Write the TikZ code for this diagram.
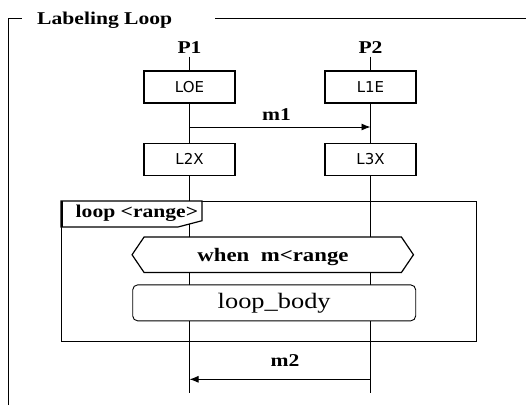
\documentclass[tikz,border=0pt]{standalone}
\usepackage{fontspec}
\setmainfont{Liberation Serif}
\newfontfamily\boxfont{DejaVu Sans}
\usetikzlibrary{arrows.meta,calc}
% serif labels are set a little wider than the font's natural width
\newcommand\wide[1]{\scalebox{1.2}[1]{#1}}
\begin{document}
\begin{tikzpicture}[x=1pt,y=-1pt,
  lbl/.style={font=\bfseries\fontsize{18}{21}\selectfont, inner sep=0pt},
  hexlbl/.style={font=\bfseries\fontsize{19}{22}\selectfont, inner sep=0pt},
  state/.style={draw, line width=1.3pt, fill=white, minimum width=91pt,
    minimum height=32pt, inner sep=0pt, font=\boxfont\fontsize{15}{18}\selectfont},
  lifeline/.style={line width=0.9pt},
  msg/.style={line width=0.9pt, -{Latex[length=9pt,width=7pt]}},
  frameline/.style={line width=1.5pt},
  loopline/.style={line width=1.2pt}]
\useasboundingbox (0,0) rectangle (526,405);

% ---- outer frame with its title
\node[lbl, anchor=base west] (title) at (37,24) {\wide{Labeling Loop}};
\coordinate (fBL) at (8.5,405);
\coordinate (fTL) at (8.5,18.5);
\coordinate (fT1) at (22,18.5);
\coordinate (fT2) at (215,18.5);
\coordinate (fTR) at (526,18.5);
\draw[frameline] (fBL) -- (fTL) -- (fT1);
\draw[frameline] (fT2) -- (fTR);

% ---- lifeline heads
\node[lbl, anchor=base] (P1) at (189.5,53.3) {\wide{P1}};
\node[lbl, anchor=base] (P2) at (370.5,53.3) {\wide{P2}};
\coordinate (P1end) at (189.5,393);
\coordinate (P2end) at (370.5,393);
\draw[lifeline] ([yshift=-3pt]P1.south) -- (P1end);
\draw[lifeline] ([yshift=-3pt]P2.south) -- (P2end);

% ---- states
\node[state] (L0E) at (189.5,87) {LOE};
\node[state] (L1E) at (370.5,87) {L1E};
\node[state] (L2X) at (189.5,159.2) {L2X};
\node[state] (L3X) at (370.5,159.2) {L3X};

% ---- message m1
\coordinate (m1s) at (189.5,127);
\coordinate (m1e) at (370.5,127);
\draw[msg] (m1s) -- (m1e);
\node[lbl, anchor=base] (m1) at (276.5,120.7) {\wide{m1}};

% ---- loop fragment
\node[draw, loopline, minimum width=415pt, minimum height=140pt, inner sep=0pt,
  anchor=north west] (loop) at (61,201) {};
\draw[loopline, fill=white] (loop.north west) -- ($(loop.north west)+(141,0)$)
  -- ($(loop.north west)+(141,19.7)$) -- ($(loop.north west)+(117,26)$)
  -- ($(loop.north west)+(0,26)$) -- cycle;
\draw[line width=2.4pt] ($(loop.north west)+(1.2,0)$) -- ($(loop.north west)+(1.2,26)$);
\node[lbl, anchor=base west] (looplbl) at (75.5,217.3) {\wide{loop <range>}};

% ---- guard
\node[fill=white, minimum width=281pt, minimum height=35pt, inner sep=0pt] (when) at (272.75,254.75) {};
\draw[loopline] (when.west) -- ([xshift=12pt]when.north west) -- ([xshift=-12pt]when.north east)
  -- (when.east) -- ([xshift=-12pt]when.south east) -- ([xshift=12pt]when.south west) -- cycle;
\node[hexlbl, anchor=base] (whenlbl) at (273,261) {\wide{when\ \ m<range}};

% ---- loop body
\node[draw, line width=0.9pt, rounded corners=5pt, fill=white, minimum width=283pt,
  minimum height=36pt, inner sep=0pt, font=\fontsize{22}{26}\selectfont]
  (body) at (274.2,302.85) {\wide{loop\_body}};

% ---- message m2
\coordinate (m2s) at (370.5,379.3);
\coordinate (m2e) at (189.5,379.3);
\draw[msg] (m2s) -- (m2e);
\node[lbl, anchor=base] (m2) at (285,366.7) {\wide{m2}};
\end{tikzpicture}
\end{document}
